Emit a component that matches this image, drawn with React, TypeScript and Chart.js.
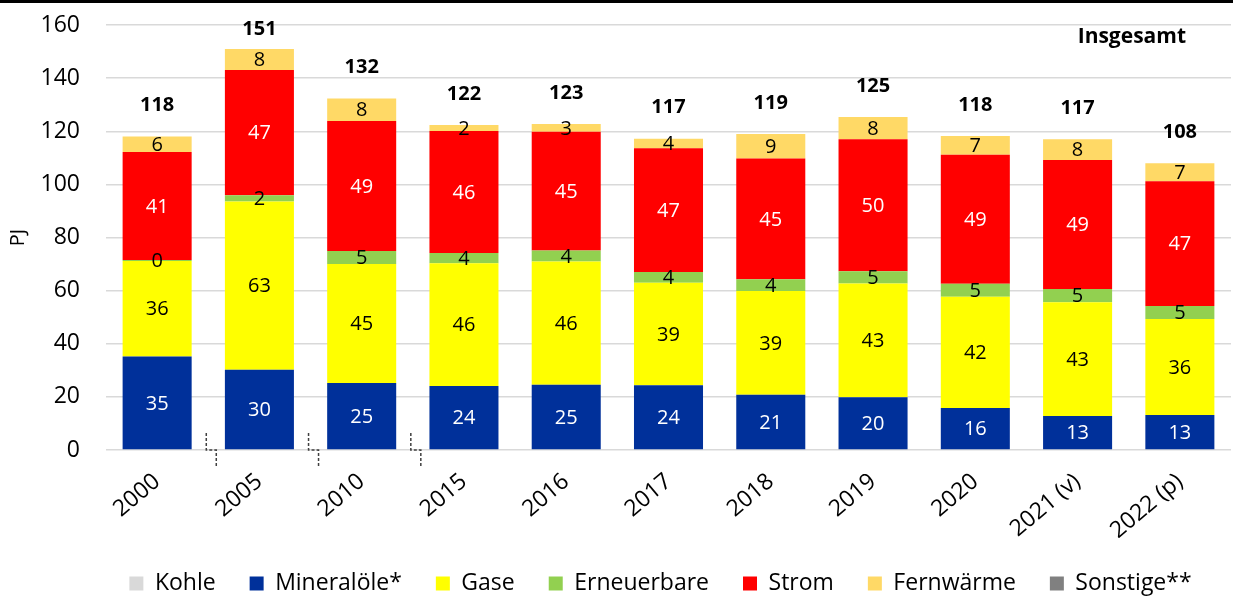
import React, { useEffect, useRef } from 'react';
import { Chart, registerables } from 'chart.js';

Chart.register(...registerables);

const categories = ['2000', '2005', '2010', '2015', '2016', '2017', '2018', '2019', '2020', '2021 (v)', '2022 (p)'];
const kohle = [0, 0, 0, 0, 0, 0, 0, 0, 0, 0, 0];
const mineraloele = [35.2, 30.2, 25.2, 24.1, 24.6, 24.4, 20.8, 19.9, 15.8, 12.8, 13.2];
const gase = [36.0, 63.4, 44.8, 46.2, 46.4, 38.6, 39.1, 42.8, 41.9, 42.8, 36.1];
const erneuerbare = [0.3, 2.3, 4.9, 3.9, 4.1, 4.0, 4.4, 4.6, 4.9, 5.0, 4.9];
const strom = [40.7, 47.2, 49.0, 45.9, 44.7, 46.6, 45.4, 49.7, 48.6, 48.6, 47.0];
const fernwaerme = [5.8, 7.9, 8.4, 2.3, 2.9, 3.6, 9.3, 8.4, 7.0, 7.8, 6.8];
const sonstige = [0, 0, 0, 0, 0, 0, 0, 0, 0, 0, 0];
const breakAfter = [0, 1, 2];

const FONT = '"Open Sans", "DejaVu Sans", sans-serif';
const PAD_BOTTOM = -9;

const labelPlugin = {
  id: 'customLabels',
  afterLayout(chart: any) {
    if (chart.legend) {
      chart.legend.left += 42;
      chart.legend.right += 42;
    }
  },
  afterDatasetsDraw(chart: any) {
    const ctx = chart.ctx;
    const xs = chart.scales.x;
    const ys = chart.scales.y;
    ctx.save();
    ctx.font = `20px ${FONT}`;
    ctx.textAlign = 'center';
    ctx.textBaseline = 'middle';
    chart.data.datasets.forEach((ds: any, di: number) => {
      if (!ds.showLabels) return;
      const meta = chart.getDatasetMeta(di);
      meta.data.forEach((bar: any, i: number) => {
        const v = ds.data[i];
        ctx.fillStyle = ds.labelColor;
        ctx.fillText(String(Math.round(v)), bar.x, (bar.y + bar.base) / 2 + 1);
      });
    });
    ctx.font = `bold 20px ${FONT}`;
    ctx.fillStyle = '#000';
    categories.forEach((_, i) => {
      let total = 0;
      chart.data.datasets.forEach((ds: any) => { total += ds.data[i]; });
      const y = Math.max(ys.getPixelForValue(total) - 31, chart.chartArea.top + 4);
      ctx.fillText(String(Math.round(total)), xs.getPixelForValue(i), y);
    });
    ctx.textAlign = 'right';
    ctx.font = `bold 21px ${FONT}`;
    ctx.fillText('Insgesamt', 1186, 37);
    ctx.strokeStyle = '#404040';
    ctx.lineWidth = 1.5;
    ctx.setLineDash([3, 2]);
    const bottom = ys.getPixelForValue(0);
    breakAfter.forEach((i) => {
      const x = (xs.getPixelForValue(i) + xs.getPixelForValue(i + 1)) / 2;
      ctx.beginPath();
      ctx.moveTo(x - 2, bottom - 17);
      ctx.lineTo(x - 2, bottom);
      ctx.lineTo(x + 8, bottom);
      ctx.lineTo(x + 8, bottom + 16);
      ctx.stroke();
    });
    ctx.restore();
  },
};

export default function App() {
  const ref = useRef<HTMLCanvasElement | null>(null);

  useEffect(() => {
    if (!ref.current) return;
    const mk = (label: string, data: number[], color: string, showLabels: boolean, labelColor: string) => ({
      label,
      data,
      backgroundColor: color,
      borderWidth: 0,
      showLabels,
      labelColor,
      barPercentage: 0.675,
      categoryPercentage: 1,
    });
    const chart = new Chart(ref.current, {
      type: 'bar',
      data: {
        labels: categories,
        datasets: [
          mk('Kohle', kohle, '#D9D9D9', false, '#000'),
          mk('Mineralöle*', mineraloele, '#00309A', true, '#fff'),
          mk('Gase', gase, '#FFFF00', true, '#000'),
          mk('Erneuerbare', erneuerbare, '#92D050', true, '#000'),
          mk('Strom', strom, '#FF0000', true, '#fff'),
          mk('Fernwärme', fernwaerme, '#FFD966', true, '#000'),
          mk('Sonstige**', sonstige, '#808080', false, '#000'),
        ] as any,
      },
      options: {
        animation: false,
        responsive: false,
        maintainAspectRatio: false,
        layout: { padding: { left: 6, right: 2, top: 25, bottom: PAD_BOTTOM } },
        plugins: {
          tooltip: { enabled: false },
          legend: {
            position: 'bottom',
            labels: {
              boxWidth: 14,
              boxHeight: 14,
              padding: 34,
              color: '#000',
              font: { family: FONT, size: 23 },
            },
          },
        },
        scales: {
          x: {
            stacked: true,
            grid: { display: false },
            border: { display: false },
            ticks: {
              color: '#000',
              font: { family: FONT, size: 23 },
              maxRotation: 40,
              minRotation: 40,
              padding: 10,
            },
            afterFit: (scale: any) => {
              const lh = scale.chart.legend ? scale.chart.legend.height : 0;
              scale.height = 596 - PAD_BOTTOM - lh - 450;
            },
          },
          y: {
            stacked: true,
            min: 0,
            max: 160,
            grid: { color: '#D9D9D9', lineWidth: 1.5, drawTicks: false },
            border: { display: false },
            ticks: {
              stepSize: 20,
              color: '#000',
              padding: 26,
              font: { family: FONT, size: 23 },
            },
            title: {
              display: true,
              text: 'PJ',
              color: '#000',
              font: { family: FONT, size: 20 },
              padding: 0,
            },
            afterFit: (scale: any) => {
              scale.width = 100;
              scale.paddingTop = 12;
              scale.paddingBottom = 12;
            },
          },
        },
      },
      plugins: [labelPlugin],
    });
    return () => chart.destroy();
  }, []);

  return (
    <div style={{ position: 'absolute', top: 0, left: 0, width: 1233, height: 596, background: '#fff' }}>
      <canvas ref={ref} width={1233} height={596} style={{ display: 'block', width: 1233, height: 596 }} />
      <div style={{ position: 'absolute', top: 0, left: 0, width: 1233, height: 3, background: '#000' }} />
    </div>
  );
}
